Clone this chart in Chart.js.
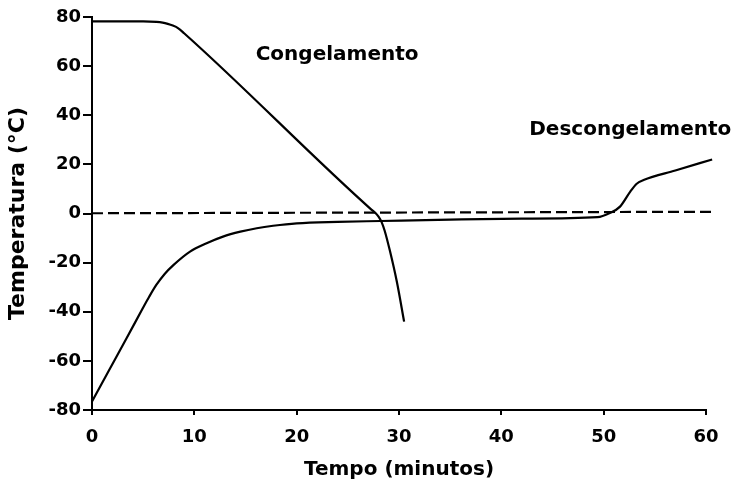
<!DOCTYPE html>
<html>
<head>
<meta charset="utf-8">
<script src="https://cdn.jsdelivr.net/npm/chart.js@4/dist/chart.umd.min.js"></script>
<style>
  html, body { margin: 0; padding: 0; background: #fff; }
  #wrap { width: 736px; height: 483px; }
</style>
</head>
<body>
<div id="wrap"><canvas id="c" width="736" height="483"></canvas></div>
<script>
// ---- data ----
const freezeTime = [0, 5, 6.3, 6.9, 7.4, 7.9, 8.4, 9.0, 27.3, 27.7, 28.0, 28.3, 28.6, 29.1, 29.8, 30.5];
const freezeTemp = [78.2, 78.2, 78.0, 77.7, 77.2, 76.5, 75.5, 73.4, 1.6, 0.2, -1.3, -3.5, -7, -15, -28, -44];

const thawTime = [0, 1.76, 3.39, 5, 5.6, 6.3, 7.1, 7.95, 9.58, 11.2, 12.8, 14.5, 16.1, 17.7, 20, 24, 28.2, 35, 42, 49.4, 50.6, 51.6, 52.6, 53.2, 53.9, 57, 60.6];
const thawTemp = [-76.5, -63.1, -50.7, -38.3, -33.8, -29.0, -24.6, -21, -15.5, -12.1, -9.4, -7.4, -6.0, -5.0, -4.0, -3.4, -3.05, -2.5, -2.1, -1.5, 0.2, 2.8, 8.9, 12, 13.6, 17.5, 22];

const refTime = [0, 60.5];
const refTemp = [0.1, 0.7];

const xTicks = [0, 10, 20, 30, 40, 50, 60];
const xTickLabels = ['0', '10', '20', '30', '40', '50', '60'];
const yTicks = [-80, -60, -40, -20, 0, 20, 40, 60, 80];
const yTickLabels = ['-80', '-60', '-40', '-20', '0', '20', '40', '60', '80'];

const curveLabels = ['Congelamento', 'Descongelamento'];
const curveLabelX = [23.95, 52.6];
const curveLabelY = [62.5, 32];

const xTitle = 'Tempo (minutos)';
const yTitle = 'Temperatura (°C)';

// ---- build ----
const pts = (xs, ys) => xs.map((x, i) => ({ x: x, y: ys[i] }));

const labelPlugin = {
  id: 'curveLabels',
  afterDatasetsDraw(chart) {
    const ctx = chart.ctx;
    const xs = chart.scales.x, ys = chart.scales.y;
    ctx.save();
    ctx.fillStyle = '#000';
    ctx.font = 'bold 20px "DejaVu Sans"';
    ctx.textAlign = 'center';
    ctx.textBaseline = 'alphabetic';
    curveLabels.forEach((t, i) => {
      ctx.fillText(t, xs.getPixelForValue(curveLabelX[i]), ys.getPixelForValue(curveLabelY[i]));
    });
    ctx.restore();
  }
};

const lineCommon = {
  showLine: true,
  pointRadius: 0,
  borderColor: '#000',
  borderWidth: 2.2,
  fill: false,
  clip: false
};

new Chart(document.getElementById('c'), {
  type: 'scatter',
  data: {
    datasets: [
      Object.assign({ label: 'Congelamento', data: pts(freezeTime, freezeTemp), cubicInterpolationMode: 'monotone' }, lineCommon),
      Object.assign({ label: 'Descongelamento', data: pts(thawTime, thawTemp), cubicInterpolationMode: 'monotone' }, lineCommon),
      Object.assign({ label: '0 °C', data: pts(refTime, refTemp), tension: 0 }, lineCommon, { borderDash: [11, 5] })
    ]
  },
  options: {
    responsive: false,
    animation: false,
    devicePixelRatio: 1,
    layout: { autoPadding: false, padding: { top: 17, right: 30, left: 0, bottom: 0 } },
    plugins: { legend: { display: false }, tooltip: { enabled: false } },
    scales: {
      x: {
        type: 'linear',
        min: 0, max: 60,
        afterFit(s) { s.height = 73; },
        afterBuildTicks(s) { s.ticks = xTicks.map(v => ({ value: v })); },
        ticks: {
          color: '#000',
          padding: 12,
          maxRotation: 0,
          font: { family: 'DejaVu Sans', size: 18, weight: 'bold' },
          callback: (v) => xTickLabels[xTicks.indexOf(v)]
        },
        grid: { drawOnChartArea: false, drawTicks: true, tickLength: 5, color: '#000', lineWidth: 2 },
        border: { display: true, color: '#000', width: 2 },
        title: {
          display: true, text: xTitle, color: '#000',
          font: { family: 'DejaVu Sans', size: 20, weight: 'bold' },
          padding: { top: 0, bottom: 1 }
        }
      },
      y: {
        type: 'linear',
        min: -80, max: 80,
        afterFit(s) { s.width = 92; },
        afterBuildTicks(s) { s.ticks = yTicks.map(v => ({ value: v })); },
        ticks: {
          color: '#000',
          padding: 2,
          font: { family: 'DejaVu Sans', size: 18, weight: 'bold' },
          callback: (v) => yTickLabels[yTicks.indexOf(v)]
        },
        grid: { drawOnChartArea: false, drawTicks: true, tickLength: 9, color: '#000', lineWidth: 2 },
        border: { display: true, color: '#000', width: 2 },
        title: {
          display: true, text: yTitle, color: '#000',
          font: { family: 'DejaVu Sans', size: 22, weight: 'bold' },
          padding: { top: 5, bottom: 0 }
        }
      }
    }
  },
  plugins: [labelPlugin]
});
</script>
</body>
</html>
